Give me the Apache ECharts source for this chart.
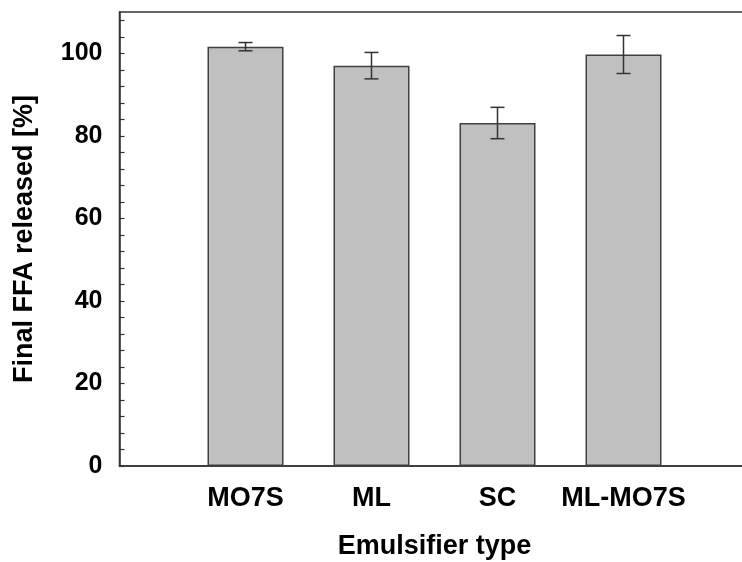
<!DOCTYPE html>
<html>
<head>
<meta charset="utf-8">
<script src="https://cdn.jsdelivr.net/npm/echarts@6/dist/echarts.min.js"></script>
<style>html,body{margin:0;padding:0;background:#fff;}#c{width:742px;height:562px;}</style>
</head>
<body>
<div id="c"></div>
<script>
var categories = ['MO7S', 'ML', 'SC', 'ML-MO7S'];
var values = [101.6, 97.0, 83.1, 99.7];
var errors = [1.0, 3.2, 3.8, 4.6];
var yLabelValues = [0, 20, 40, 60, 80, 100];
var yTickValues = [0, 4, 8, 12, 16, 20, 24, 28, 32, 36, 40, 44, 48, 52, 56, 60, 64, 68, 72, 76, 80, 84, 88, 92, 96, 100, 104, 108];

var positions = categories.map(function (c, i) { return i + 1; });
var barData = values.map(function (v, i) { return [positions[i], v]; });
var errData = values.map(function (v, i) { return [positions[i], v - errors[i], v + errors[i]]; });

var FONT = '"Liberation Sans", Arial, sans-serif';
var chart = echarts.init(document.getElementById('c'), null, {renderer: 'canvas'});
chart.setOption({
  animation: false,
  backgroundColor: '#fff',
  grid: {left: 119.5, top: 12, width: 630, height: 454, show: true, borderColor: '#333', borderWidth: 1.5, containLabel: false, outerBoundsMode: 'none'},
  xAxis: {
    type: 'value', min: 0, max: 5,
    name: 'Emulsifier type', nameLocation: 'middle', nameGap: 67,
    nameTextStyle: {fontFamily: FONT, fontWeight: 'bold', fontSize: 27, color: '#000'},
    axisLine: {show: true, lineStyle: {color: '#333', width: 1.5}},
    axisTick: {show: false},
    splitLine: {show: false},
    axisLabel: {
      customValues: positions, margin: 19,
      fontFamily: FONT, fontWeight: 'bold', fontSize: 27, color: '#000',
      formatter: function (v) { return categories[Math.round(v) - 1] || ''; }
    }
  },
  yAxis: {
    type: 'value', min: 0, max: 110,
    name: 'Final FFA released [%]', nameLocation: 'middle', nameGap: 81, nameRotate: 90,
    nameTextStyle: {fontFamily: FONT, fontWeight: 'bold', fontSize: 27, color: '#000'},
    axisLine: {show: true, lineStyle: {color: '#333', width: 1.5}},
    axisTick: {show: true, inside: true, length: 5, customValues: yTickValues, lineStyle: {color: '#333', width: 1.2}},
    splitLine: {show: false},
    axisLabel: {customValues: yLabelValues, margin: 17, fontFamily: FONT, fontWeight: 'bold', fontSize: 25, color: '#000'}
  },
  series: [
    {
      type: 'bar', data: barData, barWidth: 76,
      itemStyle: {color: '#c0c0c0', borderColor: '#404040', borderWidth: 1.5}
    },
    {
      type: 'custom', data: errData, z: 5,
      renderItem: function (params, api) {
        var x = api.value(0);
        var lo = api.coord([x, api.value(1)]);
        var hi = api.coord([x, api.value(2)]);
        var hw = 7;
        var st = {stroke: '#333', lineWidth: 1.5};
        return {type: 'group', children: [
          {type: 'line', shape: {x1: lo[0], y1: lo[1], x2: hi[0], y2: hi[1]}, style: st},
          {type: 'line', shape: {x1: lo[0] - hw, y1: lo[1], x2: lo[0] + hw, y2: lo[1]}, style: st},
          {type: 'line', shape: {x1: hi[0] - hw, y1: hi[1], x2: hi[0] + hw, y2: hi[1]}, style: st}
        ]};
      }
    }
  ]
});
</script>
</body>
</html>
